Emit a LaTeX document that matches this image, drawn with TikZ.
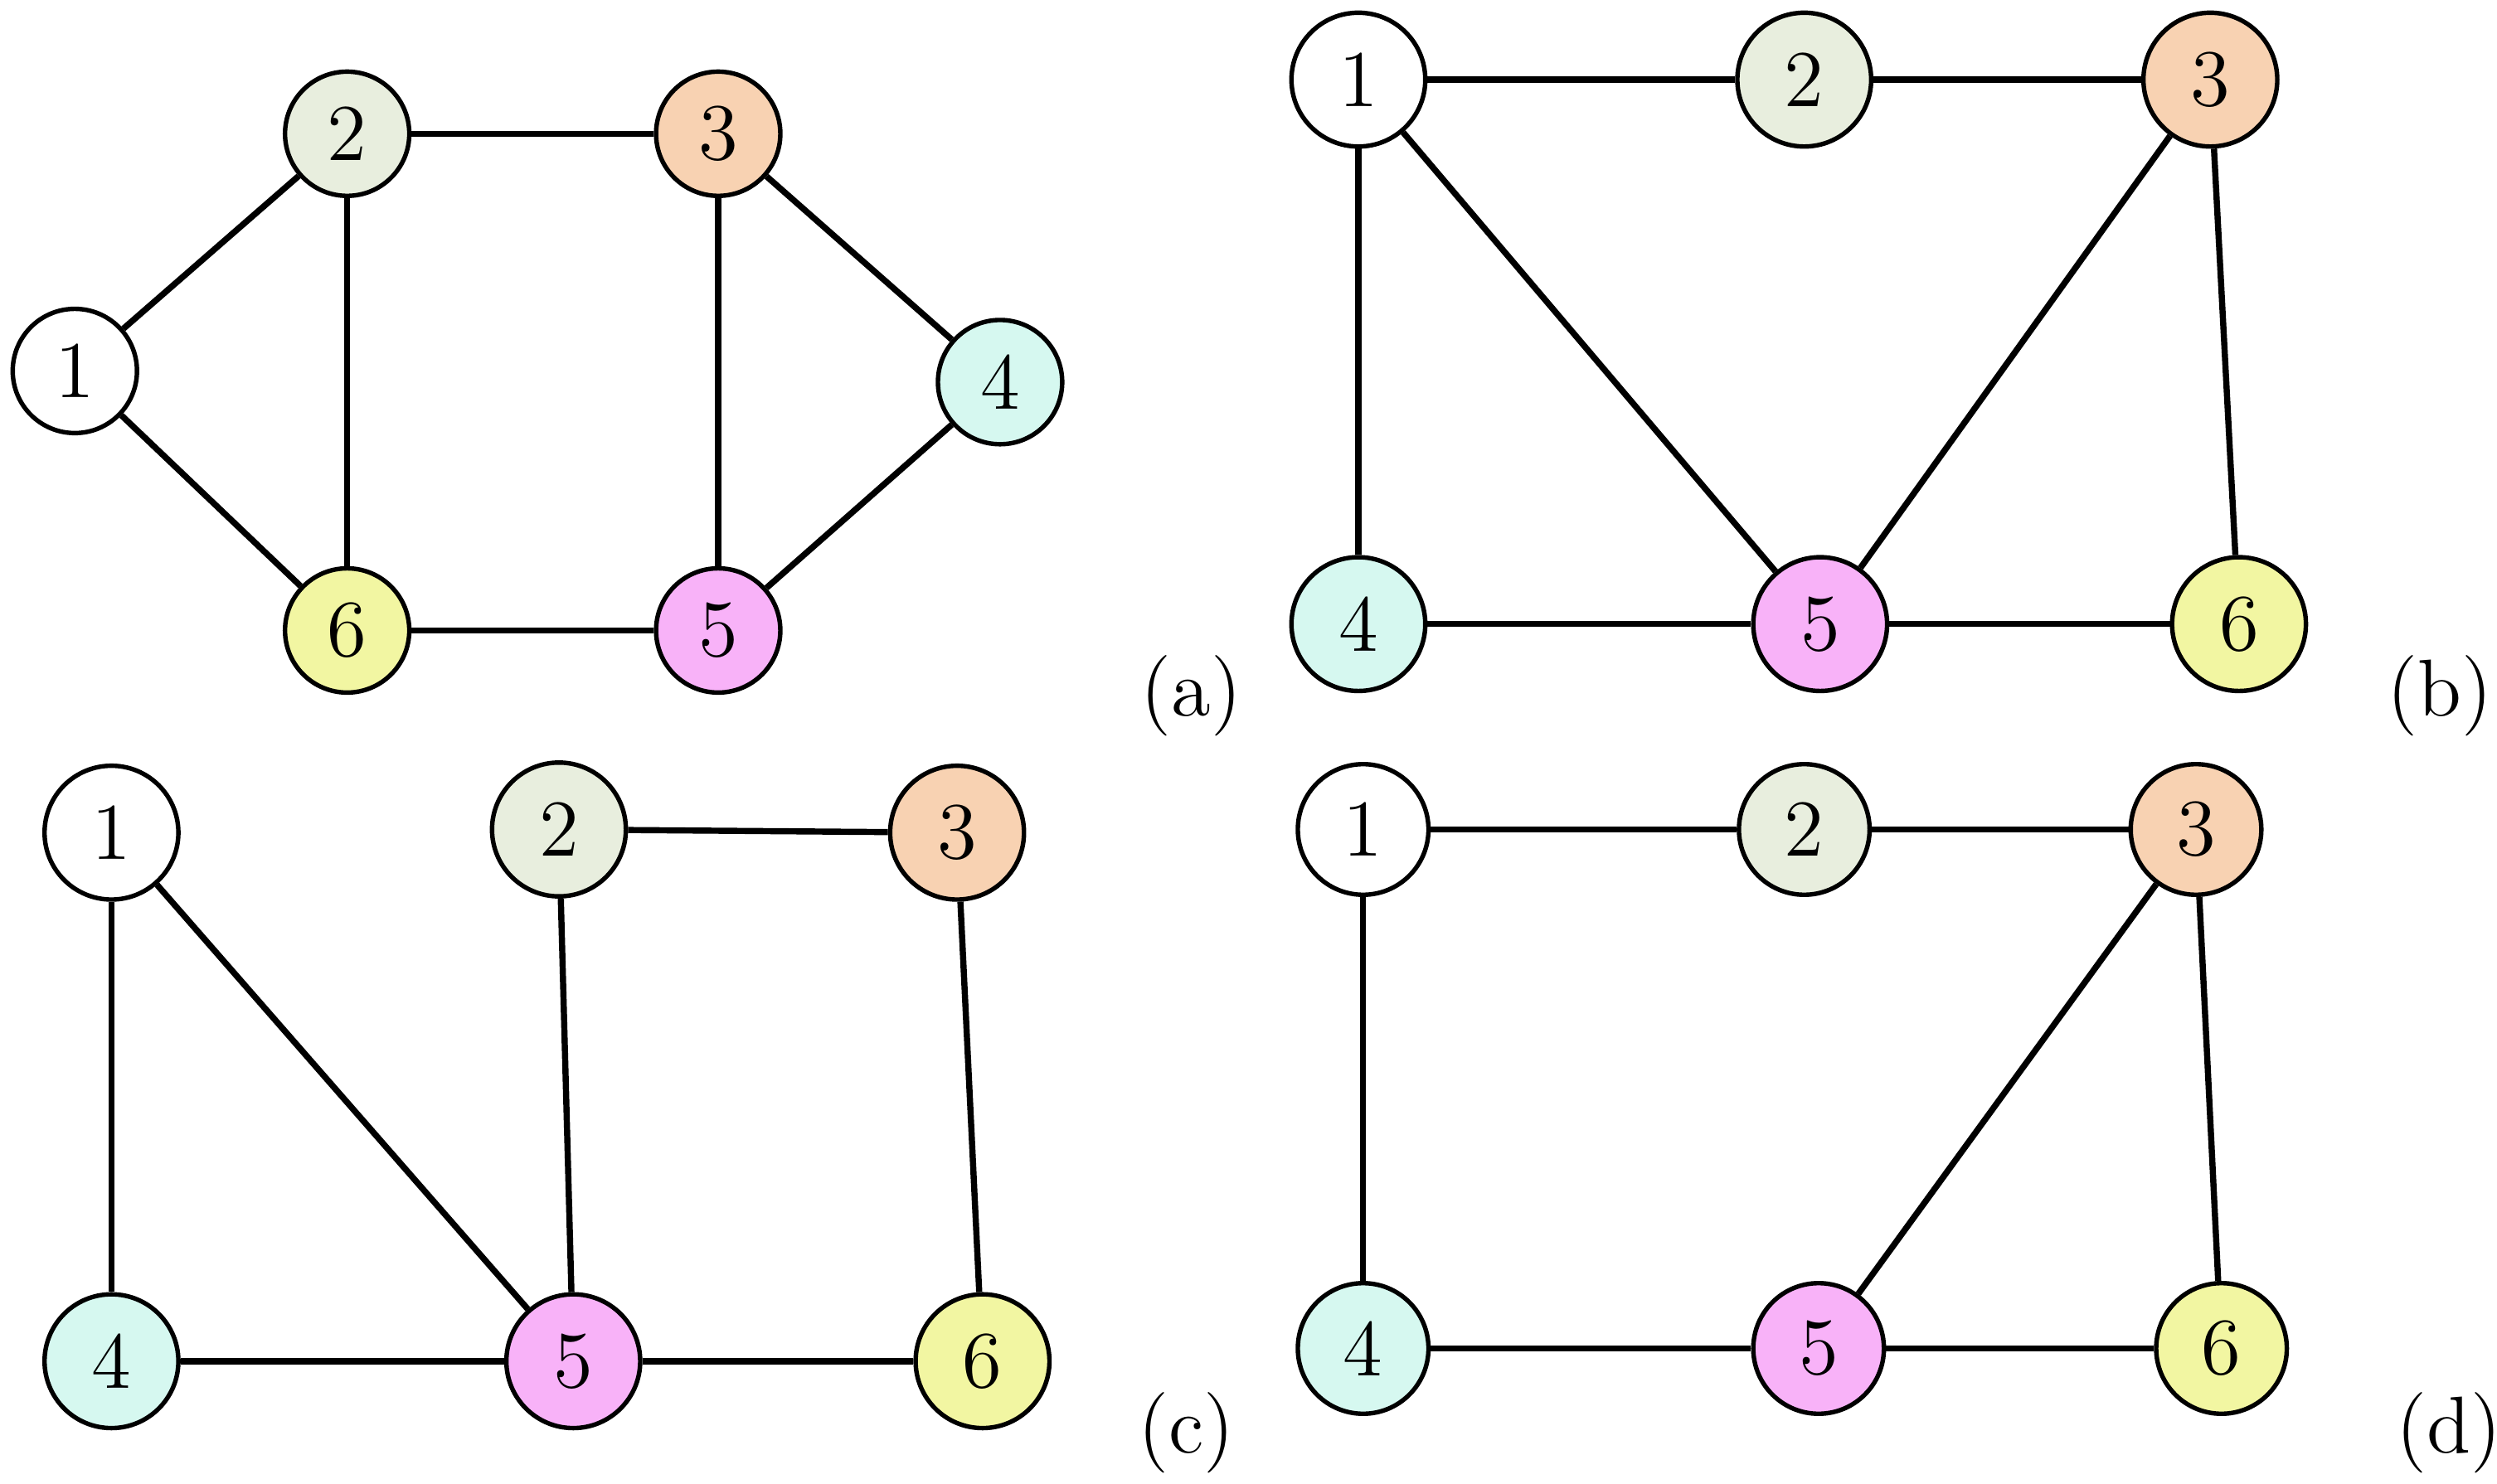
\documentclass[tikz,border=0pt]{standalone}
\usepackage{tikz}
\definecolor{cTwo}{HTML}{E8EEDE}
\definecolor{cThree}{HTML}{F8D2B2}
\definecolor{cFour}{HTML}{D6F8F0}
\definecolor{cFive}{HTML}{F8B2F8}
\definecolor{cSix}{HTML}{F2F6A2}
\tikzset{
  vtx/.style={circle,draw,thick,minimum size=0.78cm,inner sep=0pt,font=\Large},
  edge/.style={line width=1.1pt},
  tag/.style={font=\Large}
}
\begin{document}
\begin{tikzpicture}[x=0.01cm,y=-0.01cm]
            \useasboundingbox (0,0) rectangle (1568,932);

            % (a)
            \node[vtx,fill=white] (a1) at (47,233) {1};
            \node[vtx,fill=cTwo] (a2) at (218,84) {2};
            \node[vtx,fill=cThree] (a3) at (451,84) {3};
            \node[vtx,fill=cFour] (a4) at (628,240) {4};
            \node[vtx,fill=cFive] (a5) at (451,396) {5};
            \node[vtx,fill=cSix] (a6) at (218,396) {6};
            \foreach \u/\v in {1/2,1/6,2/3,2/6,3/4,3/5,4/5,5/6}
                \draw[edge] (a\u) -- (a\v);
            \node[tag] (la) at (748,437) {(a)};

            % (b)
            \node[vtx,fill=white,minimum size=0.84cm] (b1) at (853,50) {1};
            \node[vtx,fill=cTwo,minimum size=0.84cm] (b2) at (1133,50) {2};
            \node[vtx,fill=cThree,minimum size=0.84cm] (b3) at (1388,50) {3};
            \node[vtx,fill=cFour,minimum size=0.84cm] (b4) at (853,392) {4};
            \node[vtx,fill=cFive,minimum size=0.84cm] (b5) at (1143,392) {5};
            \node[vtx,fill=cSix,minimum size=0.84cm] (b6) at (1406,392) {6};
            \foreach \u/\v in {1/2,2/3,1/4,1/5,3/5,3/6,4/5,5/6}
                \draw[edge] (b\u) -- (b\v);
            \node[tag] (lb) at (1532,437) {(b)};

            % (c)
            \node[vtx,fill=white,minimum size=0.84cm] (c1) at (70,523) {1};
            \node[vtx,fill=cTwo,minimum size=0.84cm] (c2) at (351,521) {2};
            \node[vtx,fill=cThree,minimum size=0.84cm] (c3) at (601,523) {3};
            \node[vtx,fill=cFour,minimum size=0.84cm] (c4) at (70,855) {4};
            \node[vtx,fill=cFive,minimum size=0.84cm] (c5) at (360,855) {5};
            \node[vtx,fill=cSix,minimum size=0.84cm] (c6) at (617,855) {6};
            \foreach \u/\v in {1/4,1/5,2/3,2/5,3/6,4/5,5/6}
                \draw[edge] (c\u) -- (c\v);
            \node[tag] (lc) at (745,900) {(c)};

            % (d)
            \node[vtx,fill=white,minimum size=0.82cm] (d1) at (856,521) {1};
            \node[vtx,fill=cTwo,minimum size=0.82cm] (d2) at (1133,521) {2};
            \node[vtx,fill=cThree,minimum size=0.82cm] (d3) at (1379,521) {3};
            \node[vtx,fill=cFour,minimum size=0.82cm] (d4) at (856,847) {4};
            \node[vtx,fill=cFive,minimum size=0.82cm] (d5) at (1142,847) {5};
            \node[vtx,fill=cSix,minimum size=0.82cm] (d6) at (1395,847) {6};
            \foreach \u/\v in {1/2,2/3,1/4,3/5,3/6,4/5,5/6}
                \draw[edge] (d\u) -- (d\v);
            \node[tag] (ld) at (1538,900) {(d)};
        \end{tikzpicture}
\end{document}
